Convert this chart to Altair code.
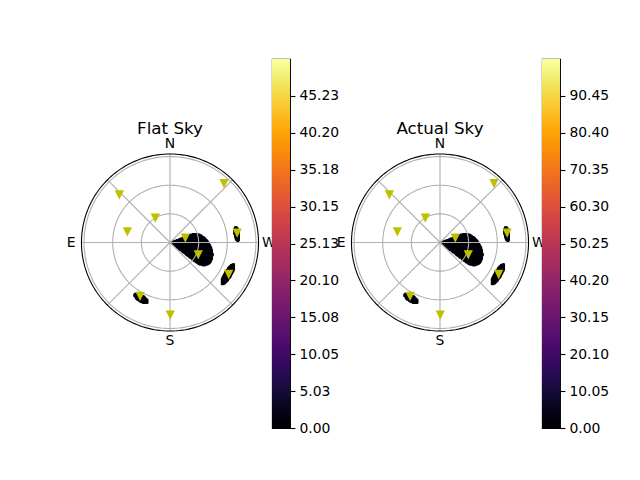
import altair as alt
import pandas as pd

# ---------------- data ----------------
# satellite positions: azimuth (deg from N toward E) and zenith angle (deg)
SAT_AZ = [46.7, 317.5, 31.0, 76.0, 286.0, 278.0, 246.5, 241.4, 151.0, 180.2]
SAT_ZEN = [72.8, 83.7, 29.8, 46.0, 16.7, 71.0, 32.3, 70.0, 64.6, 76.0]

# filled contour regions (lowest band), as ellipses centred at (az, zen)
BLOB_AZ = [256.7, 277.3, 241.3, 152.7]
BLOB_ZEN = [31.75, 70.5, 69.2, 65.9]
BLOB_A = [18.0, 7.8, 12.4, 8.3]        # semi-major axis (deg)
BLOB_B = [12.1, 2.7, 3.8, 3.6]         # semi-minor axis (deg)
BLOB_ROT = [-59.3, 98.0, 59.0, -32.0]  # orientation of the major axis
BLOB_TIP = [1, 0, 0, 0]                # 1 = region reaches the zenith (teardrop)

GRID_R = [30, 60, 90]
R_MAX = 92.7
SPOKE_AZ = [0, 45, 90, 135, 180, 225, 270, 315]
DIR_TEXT = ["N", "E", "S", "W"]
DIR_AZ = [0, 90, 180, 270]

TITLES = ["Flat Sky", "Actual Sky"]
VMAX = [50.26, 100.5]
LEVEL = [0.9, 1.8]
TICKS_FLAT = [0.0, 5.03, 10.05, 15.08, 20.10, 25.13, 30.15, 35.18, 40.20, 45.23]
TICKS_ACTUAL = [0.0, 10.05, 20.10, 30.15, 40.20, 50.25, 60.30, 70.35, 80.40, 90.45]

# ---------------- layout ----------------
PX = 0.955          # pixels per degree of zenith
H = 369             # panel height
CY = 183.5          # polar centre, from panel top
CB_W = 18
LABEL_PAD = 10.8
STEP = 0.8
HALF = 1.0          # half size of a raster cell (overlapping, so cells fuse)
FONT = "DejaVu Sans"
MARKER_COLOR = "#bfbf00"
GRID_COLOR = "#b0b0b0"

blobs = pd.DataFrame(dict(az=BLOB_AZ, zen=BLOB_ZEN, a=BLOB_A, b=BLOB_B,
                          rot=BLOB_ROT, tip=BLOB_TIP))
sats = pd.DataFrame(dict(az=SAT_AZ, zen=SAT_ZEN))
rings = pd.DataFrame(dict(r=GRID_R))
spine = pd.DataFrame(dict(r=[R_MAX]))
spokes = pd.DataFrame(dict(az=SPOKE_AZ))
dirs = pd.DataFrame(dict(text=DIR_TEXT, az=DIR_AZ))

NO_BORDER = alt.ViewBackground(stroke="white", strokeOpacity=0, strokeWidth=0)


def polar_panel(title, vmax, level, width, cx_off, title_dx):
    xs = alt.Scale(domain=[-cx_off / PX, (width - cx_off) / PX], nice=False, zero=False)
    ys = alt.Scale(domain=[-(H - CY) / PX, CY / PX], nice=False, zero=False)

    def X(f):
        return alt.X(f, type="quantitative", scale=xs, axis=None)

    def Y(f):
        return alt.Y(f, type="quantitative", scale=ys, axis=None)

    blob_layer = (
        alt.Chart(blobs)
        .transform_calculate(
            level=f"{level}",
            cx="-datum.zen*sin(datum.az*PI/180)",
            cy="datum.zen*cos(datum.az*PI/180)",
        )
        .transform_calculate(
            R="max(datum.a, datum.b) + datum.tip*sqrt(datum.cx*datum.cx + datum.cy*datum.cy)"
        )
        .transform_calculate(n=f"ceil(2*datum.R/{STEP})")
        .transform_calculate(cell="sequence(0, datum.n*datum.n)")
        .transform_flatten(["cell"])
        .transform_calculate(
            gx=f"datum.cx - datum.R + (datum.cell % datum.n + 0.5)*{STEP}",
            gy=f"datum.cy - datum.R + (floor(datum.cell / datum.n) + 0.5)*{STEP}",
            th="datum.rot*PI/180",
        )
        .transform_calculate(
            u="((datum.gx-datum.cx)*cos(datum.th) + (datum.gy-datum.cy)*sin(datum.th))/datum.a",
            v="(-(datum.gx-datum.cx)*sin(datum.th) + (datum.gy-datum.cy)*cos(datum.th))/datum.b",
            tu="(-datum.cx*cos(datum.th) - datum.cy*sin(datum.th))/datum.a",
            tv="(datum.cx*sin(datum.th) - datum.cy*cos(datum.th))/datum.b",
        )
        .transform_calculate(L="sqrt(datum.tu*datum.tu + datum.tv*datum.tv)")
        .transform_calculate(
            wu="-datum.tu/datum.L",
            wv="-datum.tv/datum.L",
        )
        .transform_calculate(
            t="(datum.u-datum.tu)*datum.wu + (datum.v-datum.tv)*datum.wv",
            d="abs(-(datum.u-datum.tu)*datum.wv + (datum.v-datum.tv)*datum.wu)",
        )
        .transform_filter(
            "(datum.u*datum.u + datum.v*datum.v <= 1 || "
            "(datum.tip == 1 && datum.L > 1 && datum.t >= 0 && "
            "datum.t <= datum.L - 1/datum.L && datum.d <= datum.t/sqrt(datum.L*datum.L - 1)))"
            f" && datum.gx*datum.gx + datum.gy*datum.gy <= {R_MAX * R_MAX}"
        )
        .transform_calculate(
            lv="toNumber(datum.level)",
            x0=f"datum.gx - {HALF}",
            x1=f"datum.gx + {HALF}",
            y0=f"datum.gy - {HALF}",
            y1=f"datum.gy + {HALF}",
        )
        .mark_rect(strokeWidth=0)
        .encode(
            x=X("x0"), x2="x1", y=Y("y0"), y2="y1",
            color=alt.Color("lv:Q", scale=alt.Scale(scheme="inferno", domain=[0, vmax]),
                            legend=None),
        )
    )

    def circle_layer(df, color):
        return (
            alt.Chart(df)
            .transform_calculate(ang="sequence(0, 361, 2)")
            .transform_flatten(["ang"])
            .transform_calculate(
                x="-datum.r*sin(datum.ang*PI/180)",
                y="datum.r*cos(datum.ang*PI/180)",
            )
            .mark_line(color=color, strokeWidth=1.1)
            .encode(x=X("x"), y=Y("y"), detail="r:N", order="ang:Q")
        )

    spoke_layer = (
        alt.Chart(spokes)
        .transform_calculate(
            x0="0", y0="0",
            x1=f"-{R_MAX}*sin(datum.az*PI/180)",
            y1=f"{R_MAX}*cos(datum.az*PI/180)",
        )
        .mark_rule(color=GRID_COLOR, strokeWidth=1.1)
        .encode(x=X("x0"), y=Y("y0"), x2="x1", y2="y1")
    )

    sat_layer = (
        alt.Chart(sats)
        .transform_calculate(
            x="-datum.zen*sin(datum.az*PI/180)",
            y="datum.zen*cos(datum.az*PI/180)",
        )
        .mark_point(shape="M-1,-1L1,-1L0,1Z", filled=True, size=86,
                    color=MARKER_COLOR, opacity=1, strokeWidth=0)
        .encode(x=X("x"), y=Y("y"))
    )

    dir_layer = (
        alt.Chart(dirs)
        .transform_calculate(
            x=f"-{R_MAX + LABEL_PAD}*sin(datum.az*PI/180)",
            y=f"{R_MAX + LABEL_PAD}*cos(datum.az*PI/180)",
        )
        .mark_text(font=FONT, fontSize=13.9, color="black", align="center", baseline="middle")
        .encode(x=X("x"), y=Y("y"), text="text:N")
    )

    return alt.layer(
        blob_layer,
        circle_layer(rings, GRID_COLOR),
        spoke_layer,
        circle_layer(spine, "black"),
        sat_layer,
        dir_layer,
    ).properties(
        width=width,
        height=H,
        view=NO_BORDER,
        title=alt.TitleParams(
            text=title, font=FONT, fontSize=16.7, fontWeight="normal", color="black",
            anchor="middle", frame="group", baseline="alphabetic", offset=0,
            dx=title_dx, dy=92,
        ),
    )


def colorbar(vmax, ticks):
    step = vmax / 256
    return (
        alt.Chart(alt.sequence(0, vmax, step, as_="v"))
        .transform_calculate(v2=f"min(datum.v + {1.6 * step}, {vmax})")
        .mark_rect(clip=True)
        .encode(
            x=alt.value(0),
            x2=alt.value(CB_W),
            y=alt.Y(
                "v:Q",
                scale=alt.Scale(domain=[0, vmax], nice=False, zero=False),
                axis=alt.Axis(
                    orient="right", values=ticks, format=".2f", title=None, grid=False,
                    domain=False, tickColor="black", tickWidth=1.1, tickSize=4.9,
                    labelPadding=4.0, labelFontSize=13.9, labelFont=FONT,
                    labelColor="black", labelFlush=False, labelOverlap=False,
                ),
            ),
            y2="v2",
            color=alt.Color("v:Q", scale=alt.Scale(scheme="inferno", domain=[0, vmax]),
                            legend=None),
        )
        .properties(width=CB_W, height=H,
                    view=alt.ViewBackground(stroke="black", strokeWidth=1.1, strokeOpacity=1))
    )


p1 = polar_panel(TITLES[0], VMAX[0], LEVEL[0], 264, 162, 30)
c1 = colorbar(VMAX[0], TICKS_FLAT)
p2 = polar_panel(TITLES[1], VMAX[1], LEVEL[1], 252, 150, 24)
c2 = colorbar(VMAX[1], TICKS_ACTUAL)

chart = (
    alt.hconcat(p1, c1, p2, c2, spacing=0, bounds="flush")
    .resolve_scale(x="independent", y="independent", color="independent")
    .properties(padding={"left": 0, "top": 50, "right": 5, "bottom": 5},
                background="white")
    .configure_view(strokeOpacity=0)
    .configure(font=FONT)
)

chart.save("out.html", embed_options={"renderer": "svg", "actions": False})
